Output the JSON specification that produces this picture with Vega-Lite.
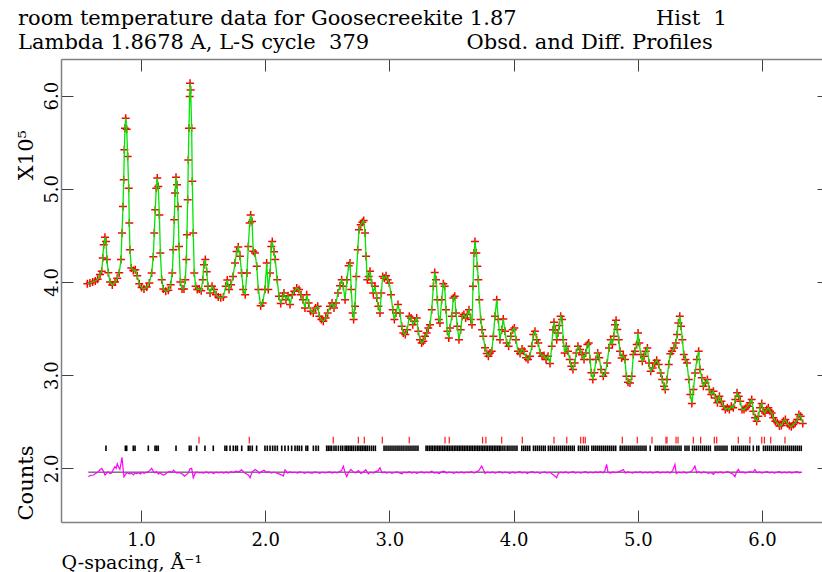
{
"$schema": "https://vega.github.io/schema/vega-lite/v6.json",
"width": 761, "height": 463,
"autosize": {"type": "none"},
"padding": {"left": 61, "top": 59, "right": 0, "bottom": 50},
"background": "white",
"config": {"view": {"stroke": null}, "font": "DejaVu Serif"},
"title": {
 "text": "\u00a0room temperature data for Goosecreekite 1.87\u2003\u2003\u2003\u2003\u2003\u2003\u00a0\u00a0Hist\u00a0\u00a01",
 "subtitle": "Lambda 1.8678 A, L-S cycle\u00a0\u00a0379\u2003\u2003\u2003\u2003\u00a0\u00a0Obsd. and Diff. Profiles",
 "anchor": "start", "frame": "group", "dx": -43, "offset": 6,
 "font": "DejaVu Serif", "fontSize": 21, "fontWeight": "normal", "color": "black",
 "subtitleFont": "DejaVu Serif", "subtitleFontSize": 21, "subtitleColor": "black", "subtitlePadding": 3
},
"datasets": {
 "zero": [{"q0": 0.576, "q1": 6.32, "lvl": 1.959}],
 "hk1": [
  {"q":0.718},{"q":0.874},{"q":0.885},{"q":0.938},{"q":0.952},{"q":1.059},{"q":1.113},{"q":1.126},{"q":1.139},{"q":1.282},{"q":1.389},{"q":1.403},{"q":1.448},{"q":1.515},{"q":1.582},{"q":1.676},{"q":1.690},{"q":1.717},{"q":1.743},{"q":1.762},{"q":1.776},{"q":1.811},{"q":1.864},{"q":1.878},{"q":1.896},{"q":1.931},{"q":1.998},{"q":2.017},{"q":2.039},{"q":2.060},{"q":2.079},{"q":2.098},{"q":2.133},{"q":2.159},{"q":2.186},{"q":2.213},{"q":2.240},{"q":2.259},{"q":2.275},{"q":2.294},{"q":2.328},{"q":2.342},{"q":2.388},{"q":2.409},{"q":2.428},
  {"q":2.495},{"q":2.508},{"q":2.522},{"q":2.535},{"q":2.554},{"q":2.570},{"q":2.589},{"q":2.608},{"q":2.624},{"q":2.643},{"q":2.656},{"q":2.669},{"q":2.683},{"q":2.696},{"q":2.710},{"q":2.726},{"q":2.742},{"q":2.755},{"q":2.769},{"q":2.782},{"q":2.796},{"q":2.809},{"q":2.822},{"q":2.838},{"q":2.855},{"q":2.871},{"q":2.887},
  {"q":2.957},{"q":2.973},{"q":2.989},{"q":3.005},{"q":3.021},{"q":3.037},{"q":3.053},{"q":3.069},{"q":3.085},{"q":3.101},{"q":3.117},{"q":3.134},{"q":3.150},{"q":3.166},{"q":3.182},{"q":3.198},{"q":3.214},{"q":3.230},
  {"q":3.295},{"q":3.308},{"q":3.322},{"q":3.335},{"q":3.348},{"q":3.362},{"q":3.375},{"q":3.389},{"q":3.402},{"q":3.415},{"q":3.429},{"q":3.442},{"q":3.456},{"q":3.469},{"q":3.482},{"q":3.496},{"q":3.509},{"q":3.523},{"q":3.536},{"q":3.550},{"q":3.563},{"q":3.576},{"q":3.590},{"q":3.603},{"q":3.617},{"q":3.630},{"q":3.644},{"q":3.657},{"q":3.670},{"q":3.684},{"q":3.697},{"q":3.711},{"q":3.724},{"q":3.738},{"q":3.751},{"q":3.764},{"q":3.778},{"q":3.791},{"q":3.805},{"q":3.818},{"q":3.831},{"q":3.845},{"q":3.858},{"q":3.872},{"q":3.885},
  {"q":3.898},{"q":3.914},{"q":3.930},{"q":3.948},{"q":3.963},{"q":3.979},{"q":3.995},{"q":4.011},{"q":4.027},{"q":4.066},{"q":4.082},{"q":4.098},{"q":4.114},{"q":4.130},{"q":4.160},{"q":4.176},{"q":4.192},{"q":4.208},{"q":4.224},{"q":4.240},{"q":4.255},{"q":4.280},{"q":4.296},{"q":4.312},{"q":4.328},{"q":4.344},{"q":4.360},{"q":4.376},{"q":4.392},{"q":4.408},{"q":4.424},{"q":4.440},{"q":4.456},{"q":4.472},{"q":4.488},{"q":4.522},{"q":4.538},{"q":4.554},{"q":4.570},{"q":4.586},{"q":4.602},{"q":4.630},{"q":4.646},{"q":4.662},{"q":4.678},{"q":4.694},{"q":4.710},{"q":4.726},{"q":4.742},{"q":4.758},{"q":4.774},{"q":4.790},{"q":4.806},{"q":4.822},{"q":4.858},{"q":4.874},{"q":4.890},{"q":4.906},{"q":4.922},{"q":4.938},{"q":4.954},{"q":4.970},{"q":4.986},{"q":5.002},{"q":5.018},{"q":5.034},{"q":5.050},{"q":5.066},{"q":5.100},{"q":5.140},{"q":5.156},{"q":5.172},{"q":5.188},{"q":5.204},{"q":5.220},{"q":5.236},{"q":5.252},{"q":5.268},{"q":5.284},{"q":5.300},{"q":5.316},{"q":5.332},{"q":5.348},{"q":5.380},{"q":5.396},{"q":5.412},{"q":5.440},{"q":5.456},{"q":5.472},{"q":5.488},{"q":5.504},{"q":5.520},{"q":5.536},{"q":5.552},{"q":5.568},{"q":5.584},{"q":5.622},{"q":5.638},{"q":5.654},{"q":5.670},{"q":5.686},{"q":5.702},{"q":5.718},{"q":5.756},{"q":5.772},{"q":5.788},{"q":5.804},{"q":5.820},{"q":5.836},{"q":5.852},{"q":5.868},{"q":5.884},{"q":5.900},{"q":5.930},{"q":5.958},{"q":5.974},{"q":6.012},{"q":6.028},{"q":6.044},{"q":6.060},{"q":6.076},{"q":6.092},{"q":6.108},{"q":6.124},{"q":6.140},{"q":6.156},{"q":6.172},{"q":6.188},{"q":6.204},{"q":6.220},{"q":6.236},{"q":6.252},{"q":6.268},{"q":6.284},{"q":6.300},{"q":6.316}
 ],
 "hk2": [
  {"q":1.467},{"q":1.872},{"q":2.548},{"q":2.750},{"q":2.798},{"q":2.943},{"q":3.160},{"q":3.448},{"q":3.482},{"q":3.750},{"q":3.777},{"q":3.904},{"q":4.070},{"q":4.325},{"q":4.428},{"q":4.540},{"q":4.561},{"q":4.577},{"q":4.875},{"q":4.996},{"q":5.114},{"q":5.227},{"q":5.235},{"q":5.308},{"q":5.324},{"q":5.447},{"q":5.506},{"q":5.616},{"q":5.635},{"q":5.809},{"q":5.903},{"q":5.998},{"q":6.019},{"q":6.070},{"q":6.185}
 ],
 "diff": [
  {"q":0.576,"d":1.910},{"q":0.595,"d":1.925},{"q":0.616,"d":1.928},{"q":0.636,"d":1.945},{"q":0.656,"d":1.964},{"q":0.670,"d":1.985},{"q":0.684,"d":2.000},{"q":0.697,"d":1.970},{"q":0.710,"d":1.928},{"q":0.724,"d":1.950},{"q":0.737,"d":1.964},{"q":0.751,"d":1.945},{"q":0.764,"d":1.950},{"q":0.778,"d":1.990},{"q":0.790,"d":2.018},{"q":0.800,"d":2.000},{"q":0.809,"d":2.050},{"q":0.818,"d":2.020},{"q":0.830,"d":1.990},{"q":0.840,"d":2.060},{"q":0.847,"d":2.118},{"q":0.854,"d":2.020},{"q":0.863,"d":1.910},{"q":0.875,"d":1.935},{"q":0.888,"d":1.955},{"q":0.898,"d":1.946},{"q":0.912,"d":1.940},{"q":0.925,"d":1.948},{"q":0.938,"d":1.930},{"q":0.952,"d":1.950},{"q":0.966,"d":1.944},{"q":0.980,"d":1.952},{"q":0.995,"d":1.940},{"q":1.010,"d":1.958},{"q":1.025,"d":1.946},{"q":1.040,"d":1.955},{"q":1.055,"d":1.962},{"q":1.070,"d":1.975},{"q":1.086,"d":2.000},{"q":1.098,"d":1.970},{"q":1.112,"d":1.950},{"q":1.125,"d":1.965},{"q":1.140,"d":1.940},{"q":1.155,"d":1.952},{"q":1.170,"d":1.935},{"q":1.185,"d":1.928},{"q":1.200,"d":1.942},{"q":1.215,"d":1.958},{"q":1.232,"d":1.966},{"q":1.248,"d":1.955},{"q":1.262,"d":1.980},{"q":1.276,"d":1.962},{"q":1.290,"d":1.948},{"q":1.305,"d":1.955},{"q":1.320,"d":1.945},{"q":1.335,"d":1.938},{"q":1.350,"d":1.915},{"q":1.365,"d":1.930},{"q":1.380,"d":1.950},{"q":1.395,"d":1.995},{"q":1.408,"d":2.000},{"q":1.421,"d":1.899},{"q":1.435,"d":1.945},{"q":1.450,"d":1.960},{"q":1.468,"d":1.950},{"q":1.485,"d":1.955},{"q":1.505,"d":1.948},{"q":1.525,"d":1.962},{"q":1.545,"d":1.950},{"q":1.565,"d":1.958},{"q":1.585,"d":1.945},{"q":1.605,"d":1.960},{"q":1.625,"d":1.952},{"q":1.645,"d":1.958},{"q":1.665,"d":1.948},{"q":1.685,"d":1.962},{"q":1.705,"d":1.950},{"q":1.725,"d":1.965},{"q":1.745,"d":1.955},{"q":1.765,"d":1.970},{"q":1.785,"d":1.960},{"q":1.810,"d":1.985},{"q":1.830,"d":1.955},{"q":1.850,"d":1.940},{"q":1.865,"d":1.930},{"q":1.878,"d":1.899},{"q":1.895,"d":1.960},{"q":1.918,"d":1.988},{"q":1.935,"d":1.975},{"q":1.952,"d":1.945},{"q":1.970,"d":1.965},{"q":1.990,"d":1.980},{"q":2.010,"d":1.958},{"q":2.030,"d":1.965},{"q":2.050,"d":1.948},{"q":2.070,"d":1.960},{"q":2.090,"d":1.950},{"q":2.110,"d":1.940},{"q":2.130,"d":1.930},{"q":2.146,"d":1.917},{"q":2.160,"d":1.985},{"q":2.180,"d":1.950},{"q":2.200,"d":1.962},{"q":2.220,"d":1.955},{"q":2.240,"d":1.958},{"q":2.260,"d":1.950},{"q":2.280,"d":1.962},{"q":2.300,"d":1.955},{"q":2.320,"d":1.945},{"q":2.340,"d":1.960},{"q":2.360,"d":1.952},{"q":2.380,"d":1.948},{"q":2.400,"d":1.962},{"q":2.420,"d":1.955},{"q":2.440,"d":1.945},{"q":2.460,"d":1.960},{"q":2.480,"d":1.950},{"q":2.500,"d":1.957},{"q":2.520,"d":1.962},{"q":2.540,"d":1.950},{"q":2.560,"d":1.958},{"q":2.580,"d":1.952},{"q":2.600,"d":1.965},{"q":2.615,"d":1.975},{"q":2.629,"d":2.024},{"q":2.642,"d":1.960},{"q":2.656,"d":1.910},{"q":2.670,"d":1.955},{"q":2.690,"d":1.988},{"q":2.710,"d":1.960},{"q":2.730,"d":1.952},{"q":2.750,"d":1.975},{"q":2.770,"d":1.945},{"q":2.790,"d":1.960},{"q":2.810,"d":1.985},{"q":2.830,"d":1.940},{"q":2.850,"d":1.960},{"q":2.870,"d":1.950},{"q":2.890,"d":1.965},{"q":2.910,"d":1.975},{"q":2.924,"d":2.006},{"q":2.940,"d":1.952},{"q":2.960,"d":1.962},{"q":2.980,"d":1.950},{"q":3.000,"d":1.960},{"q":3.020,"d":1.945},{"q":3.040,"d":1.955},{"q":3.060,"d":1.962},{"q":3.080,"d":1.950},{"q":3.100,"d":1.940},{"q":3.120,"d":1.960},{"q":3.140,"d":1.952},{"q":3.160,"d":1.965},{"q":3.180,"d":1.950},{"q":3.200,"d":1.958},{"q":3.220,"d":1.945},{"q":3.240,"d":1.955},{"q":3.260,"d":1.962},{"q":3.280,"d":1.950},{"q":3.300,"d":1.960},{"q":3.320,"d":1.952},{"q":3.340,"d":1.968},{"q":3.360,"d":1.950},{"q":3.380,"d":1.957},{"q":3.400,"d":1.945},{"q":3.420,"d":1.962},{"q":3.440,"d":1.970},{"q":3.460,"d":1.950},{"q":3.480,"d":1.960},{"q":3.500,"d":1.955},{"q":3.520,"d":1.945},{"q":3.540,"d":1.960},{"q":3.560,"d":1.952},{"q":3.580,"d":1.962},{"q":3.600,"d":1.948},{"q":3.620,"d":1.960},{"q":3.640,"d":1.955},{"q":3.660,"d":1.965},{"q":3.680,"d":1.950},{"q":3.700,"d":1.962},{"q":3.720,"d":1.975},{"q":3.743,"d":2.024},{"q":3.756,"d":1.988},{"q":3.770,"d":1.945},{"q":3.790,"d":1.960},{"q":3.810,"d":1.952},{"q":3.830,"d":1.962},{"q":3.850,"d":1.948},{"q":3.870,"d":1.958},{"q":3.890,"d":1.965},{"q":3.910,"d":1.950},{"q":3.930,"d":1.960},{"q":3.950,"d":1.955},{"q":3.970,"d":1.945},{"q":3.990,"d":1.962},{"q":4.010,"d":1.950},{"q":4.030,"d":1.958},{"q":4.050,"d":1.965},{"q":4.070,"d":1.950},{"q":4.090,"d":1.960},{"q":4.110,"d":1.945},{"q":4.130,"d":1.958},{"q":4.150,"d":1.965},{"q":4.170,"d":1.952},{"q":4.190,"d":1.960},{"q":4.210,"d":1.945},{"q":4.230,"d":1.955},{"q":4.250,"d":1.962},{"q":4.270,"d":1.950},{"q":4.290,"d":1.960},{"q":4.310,"d":1.940},{"q":4.330,"d":1.920},{"q":4.346,"d":1.899},{"q":4.360,"d":1.945},{"q":4.380,"d":1.960},{"q":4.400,"d":1.952},{"q":4.420,"d":1.962},{"q":4.440,"d":1.950},{"q":4.460,"d":1.958},{"q":4.480,"d":1.965},{"q":4.500,"d":1.950},{"q":4.520,"d":1.960},{"q":4.540,"d":1.948},{"q":4.560,"d":1.958},{"q":4.580,"d":1.965},{"q":4.600,"d":1.950},{"q":4.620,"d":1.960},{"q":4.640,"d":1.952},{"q":4.660,"d":1.962},{"q":4.680,"d":1.955},{"q":4.700,"d":1.965},{"q":4.720,"d":1.950},{"q":4.735,"d":1.975},{"q":4.749,"d":2.042},{"q":4.760,"d":1.960},{"q":4.780,"d":1.950},{"q":4.800,"d":1.962},{"q":4.820,"d":1.955},{"q":4.840,"d":1.960},{"q":4.860,"d":1.970},{"q":4.883,"d":1.988},{"q":4.900,"d":1.950},{"q":4.920,"d":1.962},{"q":4.940,"d":1.955},{"q":4.960,"d":1.948},{"q":4.980,"d":1.962},{"q":5.000,"d":1.955},{"q":5.020,"d":1.965},{"q":5.040,"d":1.950},{"q":5.060,"d":1.960},{"q":5.080,"d":1.952},{"q":5.100,"d":1.962},{"q":5.120,"d":1.950},{"q":5.140,"d":1.958},{"q":5.160,"d":1.965},{"q":5.180,"d":1.950},{"q":5.200,"d":1.960},{"q":5.220,"d":1.955},{"q":5.240,"d":1.962},{"q":5.260,"d":1.950},{"q":5.280,"d":1.975},{"q":5.299,"d":2.042},{"q":5.310,"d":1.945},{"q":5.330,"d":1.960},{"q":5.350,"d":1.952},{"q":5.370,"d":1.962},{"q":5.390,"d":1.950},{"q":5.410,"d":1.958},{"q":5.430,"d":1.965},{"q":5.445,"d":1.990},{"q":5.460,"d":2.024},{"q":5.475,"d":1.952},{"q":5.490,"d":1.965},{"q":5.510,"d":1.950},{"q":5.530,"d":1.962},{"q":5.550,"d":1.955},{"q":5.570,"d":1.945},{"q":5.590,"d":1.955},{"q":5.608,"d":1.934},{"q":5.625,"d":1.960},{"q":5.645,"d":1.952},{"q":5.665,"d":1.962},{"q":5.685,"d":1.950},{"q":5.705,"d":1.958},{"q":5.725,"d":1.965},{"q":5.745,"d":1.950},{"q":5.765,"d":1.940},{"q":5.782,"d":1.910},{"q":5.795,"d":1.960},{"q":5.809,"d":1.988},{"q":5.825,"d":1.955},{"q":5.845,"d":1.962},{"q":5.865,"d":1.950},{"q":5.885,"d":1.958},{"q":5.905,"d":1.965},{"q":5.925,"d":1.955},{"q":5.943,"d":1.988},{"q":5.960,"d":1.952},{"q":5.980,"d":1.962},{"q":6.000,"d":1.950},{"q":6.020,"d":1.958},{"q":6.040,"d":1.965},{"q":6.060,"d":1.952},{"q":6.080,"d":1.960},{"q":6.100,"d":1.948},{"q":6.120,"d":1.958},{"q":6.140,"d":1.965},{"q":6.160,"d":1.950},{"q":6.180,"d":1.960},{"q":6.200,"d":1.952},{"q":6.220,"d":1.962},{"q":6.240,"d":1.950},{"q":6.260,"d":1.958},{"q":6.280,"d":1.965},{"q":6.300,"d":1.952},{"q":6.319,"d":1.958}
 ],
 "prof": [
  {"q":0.568,"I":3.982},{"q":0.589,"I":3.99},{"q":0.611,"I":4.0},{"q":0.632,"I":4.01},{"q":0.651,"I":4.03},{"q":0.670,"I":4.08},{"q":0.684,"I":4.114},{"q":0.692,"I":4.257},{"q":0.700,"I":4.40},{"q":0.710,"I":4.48},{"q":0.718,"I":4.435},{"q":0.726,"I":4.24},{"q":0.737,"I":4.10},{"q":0.750,"I":4.0},{"q":0.769,"I":3.968},{"q":0.791,"I":4.0},{"q":0.809,"I":4.04},{"q":0.825,"I":4.10},{"q":0.839,"I":4.24},{"q":0.847,"I":4.525},{"q":0.855,"I":4.81},{"q":0.861,"I":5.097},{"q":0.866,"I":5.418},{"q":0.871,"I":5.65},{"q":0.877,"I":5.758},{"q":0.885,"I":5.64},{"q":0.893,"I":5.346},{"q":0.901,"I":5.007},{"q":0.906,"I":4.632},{"q":0.911,"I":4.346},{"q":0.922,"I":4.15},{"q":0.938,"I":4.124},{"q":0.954,"I":4.13},{"q":0.970,"I":4.067},{"q":0.986,"I":3.98},{"q":1.005,"I":3.94},{"q":1.024,"I":3.925},{"q":1.046,"I":3.945},{"q":1.067,"I":3.99},{"q":1.086,"I":4.097},{"q":1.099,"I":4.27},{"q":1.107,"I":4.525},{"q":1.115,"I":4.775},{"q":1.123,"I":5.007},{"q":1.131,"I":5.115},{"q":1.139,"I":5.025},{"q":1.148,"I":4.72},{"q":1.156,"I":4.31},{"q":1.167,"I":4.025},{"q":1.180,"I":3.925},{"q":1.199,"I":3.90},{"q":1.220,"I":3.91},{"q":1.239,"I":3.97},{"q":1.252,"I":4.097},{"q":1.260,"I":4.346},{"q":1.268,"I":4.668},{"q":1.274,"I":4.954},{"q":1.282,"I":5.125},{"q":1.290,"I":5.043},{"q":1.298,"I":4.81},{"q":1.306,"I":4.38},{"q":1.317,"I":4.0},{"q":1.330,"I":3.925},{"q":1.346,"I":3.925},{"q":1.357,"I":4.025},{"q":1.365,"I":4.24},{"q":1.370,"I":4.507},{"q":1.376,"I":4.882},{"q":1.381,"I":5.31},{"q":1.386,"I":5.65},{"q":1.392,"I":5.99},{"q":1.395,"I":6.133},{"q":1.400,"I":6.06},{"q":1.408,"I":5.65},{"q":1.413,"I":5.08},{"q":1.421,"I":4.525},{"q":1.429,"I":4.097},{"q":1.440,"I":3.953},{"q":1.453,"I":3.918},{"q":1.469,"I":3.925},{"q":1.485,"I":3.907},{"q":1.497,"I":4.025},{"q":1.507,"I":4.185},{"q":1.518,"I":4.24},{"q":1.529,"I":4.11},{"q":1.539,"I":3.953},{"q":1.556,"I":3.882},{"q":1.572,"I":3.953},{"q":1.588,"I":3.918},{"q":1.604,"I":3.864},{"q":1.622,"I":3.84},{"q":1.642,"I":3.83},{"q":1.663,"I":3.84},{"q":1.682,"I":3.953},{"q":1.695,"I":4.02},{"q":1.709,"I":3.918},{"q":1.725,"I":3.97},{"q":1.741,"I":4.06},{"q":1.757,"I":4.203},{"q":1.770,"I":4.328},{"q":1.783,"I":4.375},{"q":1.797,"I":4.275},{"q":1.810,"I":4.097},{"q":1.823,"I":3.918},{"q":1.839,"I":3.864},{"q":1.853,"I":4.097},{"q":1.864,"I":4.38},{"q":1.875,"I":4.632},{"q":1.883,"I":4.72},{"q":1.894,"I":4.65},{"q":1.904,"I":4.33},{"q":1.918,"I":4.31},{"q":1.932,"I":4.17},{"q":1.945,"I":3.918},{"q":1.964,"I":3.746},{"q":1.980,"I":3.775},{"q":1.998,"I":3.918},{"q":2.012,"I":4.203},{"q":2.025,"I":3.918},{"q":2.039,"I":4.097},{"q":2.049,"I":4.382},{"q":2.057,"I":4.435},{"q":2.071,"I":4.325},{"q":2.081,"I":4.24},{"q":2.097,"I":4.025},{"q":2.111,"I":3.846},{"q":2.125,"I":3.768},{"q":2.141,"I":3.846},{"q":2.151,"I":3.882},{"q":2.167,"I":3.81},{"q":2.184,"I":3.853},{"q":2.200,"I":3.757},{"q":2.218,"I":3.864},{"q":2.234,"I":3.9},{"q":2.254,"I":3.936},{"q":2.272,"I":3.918},{"q":2.288,"I":3.864},{"q":2.304,"I":3.81},{"q":2.320,"I":3.721},{"q":2.334,"I":3.864},{"q":2.350,"I":3.775},{"q":2.366,"I":3.685},{"q":2.387,"I":3.668},{"q":2.406,"I":3.721},{"q":2.423,"I":3.739},{"q":2.436,"I":3.631},{"q":2.452,"I":3.596},{"q":2.468,"I":3.578},{"q":2.487,"I":3.614},{"q":2.503,"I":3.668},{"q":2.522,"I":3.739},{"q":2.538,"I":3.775},{"q":2.554,"I":3.721},{"q":2.570,"I":3.775},{"q":2.586,"I":3.882},{"q":2.602,"I":3.96},{"q":2.616,"I":4.025},{"q":2.629,"I":3.953},{"q":2.643,"I":3.81},{"q":2.659,"I":4.025},{"q":2.672,"I":4.175},{"q":2.683,"I":4.203},{"q":2.693,"I":3.918},{"q":2.704,"I":3.668},{"q":2.712,"I":3.596},{"q":2.723,"I":3.739},{"q":2.734,"I":4.06},{"q":2.745,"I":4.346},{"q":2.755,"I":4.56},{"q":2.769,"I":4.614},{"q":2.782,"I":4.64},{"q":2.793,"I":4.66},{"q":2.804,"I":4.525},{"q":2.812,"I":4.275},{"q":2.822,"I":4.025},{"q":2.833,"I":4.06},{"q":2.844,"I":4.114},{"q":2.857,"I":3.99},{"q":2.870,"I":3.882},{"q":2.884,"I":3.953},{"q":2.898,"I":3.828},{"q":2.911,"I":3.739},{"q":2.924,"I":3.668},{"q":2.935,"I":3.882},{"q":2.946,"I":4.06},{"q":2.959,"I":4.04},{"q":2.973,"I":4.067},{"q":2.986,"I":4.025},{"q":2.999,"I":3.99},{"q":3.013,"I":3.864},{"q":3.027,"I":3.703},{"q":3.040,"I":3.596},{"q":3.053,"I":3.668},{"q":3.069,"I":3.757},{"q":3.085,"I":3.668},{"q":3.099,"I":3.524},{"q":3.112,"I":3.453},{"q":3.128,"I":3.435},{"q":3.144,"I":3.488},{"q":3.160,"I":3.631},{"q":3.174,"I":3.614},{"q":3.188,"I":3.542},{"q":3.204,"I":3.578},{"q":3.220,"I":3.614},{"q":3.233,"I":3.47},{"q":3.246,"I":3.381},{"q":3.260,"I":3.346},{"q":3.273,"I":3.363},{"q":3.287,"I":3.417},{"q":3.300,"I":3.453},{"q":3.313,"I":3.506},{"q":3.327,"I":3.542},{"q":3.341,"I":3.703},{"q":3.354,"I":3.953},{"q":3.365,"I":4.103},{"q":3.375,"I":4.025},{"q":3.386,"I":3.81},{"q":3.397,"I":3.596},{"q":3.407,"I":3.56},{"q":3.421,"I":3.81},{"q":3.434,"I":3.982},{"q":3.445,"I":3.953},{"q":3.456,"I":3.703},{"q":3.467,"I":3.47},{"q":3.478,"I":3.40},{"q":3.488,"I":3.506},{"q":3.502,"I":3.631},{"q":3.515,"I":3.828},{"q":3.526,"I":3.846},{"q":3.536,"I":3.668},{"q":3.547,"I":3.524},{"q":3.560,"I":3.381},{"q":3.574,"I":3.488},{"q":3.587,"I":3.631},{"q":3.600,"I":3.65},{"q":3.614,"I":3.614},{"q":3.627,"I":3.65},{"q":3.641,"I":3.703},{"q":3.655,"I":3.596},{"q":3.665,"I":3.542},{"q":3.673,"I":3.953},{"q":3.681,"I":4.31},{"q":3.689,"I":4.435},{"q":3.700,"I":4.31},{"q":3.708,"I":4.168},{"q":3.716,"I":4.025},{"q":3.724,"I":3.81},{"q":3.735,"I":3.596},{"q":3.746,"I":3.488},{"q":3.756,"I":3.417},{"q":3.770,"I":3.293},{"q":3.784,"I":3.232},{"q":3.797,"I":3.203},{"q":3.810,"I":3.239},{"q":3.824,"I":3.257},{"q":3.837,"I":3.417},{"q":3.850,"I":3.631},{"q":3.864,"I":3.81},{"q":3.877,"I":3.596},{"q":3.890,"I":3.381},{"q":3.904,"I":3.488},{"q":3.917,"I":3.603},{"q":3.931,"I":3.47},{"q":3.944,"I":3.346},{"q":3.960,"I":3.31},{"q":3.977,"I":3.417},{"q":3.993,"I":3.488},{"q":4.006,"I":3.506},{"q":4.019,"I":3.381},{"q":4.035,"I":3.257},{"q":4.052,"I":3.232},{"q":4.068,"I":3.282},{"q":4.084,"I":3.257},{"q":4.100,"I":3.186},{"q":4.116,"I":3.168},{"q":4.132,"I":3.203},{"q":4.146,"I":3.31},{"q":4.159,"I":3.435},{"q":4.172,"I":3.47},{"q":4.186,"I":3.381},{"q":4.199,"I":3.346},{"q":4.213,"I":3.239},{"q":4.229,"I":3.203},{"q":4.245,"I":3.21},{"q":4.261,"I":3.168},{"q":4.277,"I":3.203},{"q":4.293,"I":3.124},{"q":4.307,"I":3.31},{"q":4.317,"I":3.488},{"q":4.325,"I":3.567},{"q":4.336,"I":3.488},{"q":4.347,"I":3.381},{"q":4.357,"I":3.453},{"q":4.368,"I":3.532},{"q":4.379,"I":3.631},{"q":4.390,"I":3.596},{"q":4.400,"I":3.381},{"q":4.411,"I":3.239},{"q":4.424,"I":3.31},{"q":4.438,"I":3.257},{"q":4.452,"I":3.168},{"q":4.465,"I":3.096},{"q":4.478,"I":3.06},{"q":4.492,"I":3.131},{"q":4.505,"I":3.239},{"q":4.518,"I":3.31},{"q":4.535,"I":3.274},{"q":4.551,"I":3.22},{"q":4.567,"I":3.168},{"q":4.581,"I":3.239},{"q":4.594,"I":3.328},{"q":4.605,"I":3.346},{"q":4.615,"I":3.168},{"q":4.626,"I":3.025},{"q":4.638,"I":2.953},{"q":4.650,"I":3.025},{"q":4.664,"I":3.168},{"q":4.677,"I":3.239},{"q":4.690,"I":3.186},{"q":4.704,"I":3.06},{"q":4.722,"I":2.988},{"q":4.738,"I":3.024},{"q":4.754,"I":3.131},{"q":4.768,"I":3.292},{"q":4.782,"I":3.381},{"q":4.795,"I":3.328},{"q":4.806,"I":3.417},{"q":4.816,"I":3.542},{"q":4.825,"I":3.588},{"q":4.835,"I":3.489},{"q":4.846,"I":3.381},{"q":4.857,"I":3.256},{"q":4.870,"I":3.185},{"q":4.883,"I":3.21},{"q":4.897,"I":3.167},{"q":4.908,"I":2.988},{"q":4.921,"I":2.924},{"q":4.937,"I":2.917},{"q":4.951,"I":2.988},{"q":4.964,"I":3.221},{"q":4.977,"I":3.256},{"q":4.991,"I":3.328},{"q":5.002,"I":3.453},{"q":5.012,"I":3.346},{"q":5.023,"I":3.221},{"q":5.036,"I":3.149},{"q":5.050,"I":3.203},{"q":5.064,"I":3.256},{"q":5.077,"I":3.292},{"q":5.090,"I":3.131},{"q":5.104,"I":3.042},{"q":5.120,"I":3.078},{"q":5.136,"I":3.131},{"q":5.152,"I":3.16},{"q":5.168,"I":3.114},{"q":5.184,"I":3.024},{"q":5.197,"I":2.953},{"q":5.211,"I":2.881},{"q":5.221,"I":2.846},{"q":5.235,"I":2.953},{"q":5.249,"I":3.114},{"q":5.262,"I":3.231},{"q":5.275,"I":3.256},{"q":5.292,"I":3.292},{"q":5.306,"I":3.346},{"q":5.316,"I":3.435},{"q":5.327,"I":3.56},{"q":5.338,"I":3.631},{"q":5.348,"I":3.524},{"q":5.359,"I":3.381},{"q":5.370,"I":3.221},{"q":5.383,"I":3.167},{"q":5.396,"I":3.131},{"q":5.410,"I":2.953},{"q":5.423,"I":2.792},{"q":5.435,"I":2.696},{"q":5.448,"I":2.846},{"q":5.461,"I":3.024},{"q":5.475,"I":3.167},{"q":5.490,"I":3.256},{"q":5.501,"I":3.06},{"q":5.515,"I":2.971},{"q":5.528,"I":2.881},{"q":5.544,"I":2.917},{"q":5.560,"I":2.953},{"q":5.576,"I":2.846},{"q":5.592,"I":2.792},{"q":5.609,"I":2.828},{"q":5.625,"I":2.756},{"q":5.641,"I":2.703},{"q":5.657,"I":2.774},{"q":5.673,"I":2.721},{"q":5.689,"I":2.667},{"q":5.705,"I":2.631},{"q":5.721,"I":2.649},{"q":5.737,"I":2.631},{"q":5.753,"I":2.667},{"q":5.769,"I":2.649},{"q":5.785,"I":2.738},{"q":5.799,"I":2.81},{"q":5.812,"I":2.774},{"q":5.825,"I":2.721},{"q":5.839,"I":2.631},{"q":5.855,"I":2.631},{"q":5.871,"I":2.649},{"q":5.887,"I":2.667},{"q":5.903,"I":2.703},{"q":5.917,"I":2.738},{"q":5.930,"I":2.613},{"q":5.944,"I":2.542},{"q":5.957,"I":2.506},{"q":5.971,"I":2.56},{"q":5.984,"I":2.649},{"q":5.998,"I":2.696},{"q":6.011,"I":2.613},{"q":6.024,"I":2.595},{"q":6.038,"I":2.631},{"q":6.051,"I":2.649},{"q":6.064,"I":2.613},{"q":6.078,"I":2.595},{"q":6.091,"I":2.542},{"q":6.107,"I":2.506},{"q":6.123,"I":2.488},{"q":6.140,"I":2.453},{"q":6.156,"I":2.46},{"q":6.172,"I":2.506},{"q":6.188,"I":2.524},{"q":6.204,"I":2.481},{"q":6.220,"I":2.46},{"q":6.236,"I":2.446},{"q":6.252,"I":2.47},{"q":6.268,"I":2.488},{"q":6.284,"I":2.524},{"q":6.297,"I":2.578},{"q":6.311,"I":2.56},{"q":6.328,"I":2.481}
 ]
},
"layer": [
 {
  "data": {"name": "hk1"},
  "mark": {"type": "rule", "color": "#000000", "strokeWidth": 1.6},
  "encoding": {
   "x": {"field": "q", "type": "quantitative", "scale": {"domain": [0.356, 6.483], "nice": false, "zero": false}, "axis": null},
   "y": {"datum": 2.185, "type": "quantitative", "scale": {"domain": [1.424, 6.393], "nice": false, "zero": false}, "axis": null},
   "y2": {"datum": 2.245}
  }
 },
 {
  "data": {"name": "hk2"},
  "mark": {"type": "rule", "color": "#ff1a1a", "strokeWidth": 1.2},
  "encoding": {
   "x": {"field": "q", "type": "quantitative", "scale": {"domain": [0.356, 6.483], "nice": false, "zero": false}, "axis": null},
   "y": {"datum": 2.267, "type": "quantitative", "scale": {"domain": [1.424, 6.393], "nice": false, "zero": false}, "axis": null},
   "y2": {"datum": 2.338}
  }
 },
 {
  "data": {"name": "zero"},
  "mark": {"type": "rule", "color": "#333333", "strokeWidth": 1},
  "encoding": {
   "x": {"field": "q0", "type": "quantitative", "scale": {"domain": [0.356, 6.483], "nice": false, "zero": false}, "axis": null},
   "x2": {"field": "q1"},
   "y": {"field": "lvl", "type": "quantitative", "scale": {"domain": [1.424, 6.393], "nice": false, "zero": false}, "axis": null}
  }
 },
 {
  "data": {"name": "diff"},
  "mark": {"type": "line", "color": "#ff00ff", "strokeWidth": 1.2},
  "encoding": {
   "x": {"field": "q", "type": "quantitative", "scale": {"domain": [0.356, 6.483], "nice": false, "zero": false}, "axis": null},
   "y": {"field": "d", "type": "quantitative", "scale": {"domain": [1.424, 6.393], "nice": false, "zero": false}, "axis": null}
  }
 },
 {
  "data": {"name": "prof"},
  "mark": {"type": "point", "shape": "M-1,0H1M0,-1V1", "size": 64, "filled": false, "color": "#ff0000", "strokeWidth": 1.5, "opacity": 1},
  "encoding": {
   "x": {"field": "q", "type": "quantitative", "scale": {"domain": [0.356, 6.483], "nice": false, "zero": false},
    "axis": {"orient": "bottom", "values": [1, 2, 3, 4, 5, 6], "format": ".1f", "grid": false, "tickSize": -12, "tickColor": "#404040", "tickWidth": 1, "domainColor": "#808080", "domainWidth": 1.5, "labelFont": "DejaVu Serif", "labelFontSize": 18, "labelColor": "#000000", "labelPadding": 21, "labelFlush": false, "title": "Q-spacing, \u00c5\u207b\u00b9", "titleFont": "DejaVu Serif", "titleFontSize": 19, "titleFontWeight": "normal", "titleColor": "#000000", "titleAnchor": "start", "titleAlign": "left", "titleBaseline": "alphabetic", "titleX": 0, "titleY": 46}},
   "y": {"field": "I", "type": "quantitative", "scale": {"domain": [1.424, 6.393], "nice": false, "zero": false},
    "axis": {"orient": "left", "values": [2, 3, 4, 5, 6], "format": ".1f", "grid": false, "tickSize": -12, "tickColor": "#404040", "tickWidth": 1, "domainColor": "#808080", "domainWidth": 1.5, "labelFont": "DejaVu Serif", "labelFontSize": 18, "labelColor": "#000000", "labelAngle": -90, "labelAlign": "center", "labelBaseline": "alphabetic", "labelPadding": 16, "title": "Counts\u2003\u2003\u2003\u2003\u2003\u2003\u2003\u2003\u2003\u2003\u2003\u2003\u00a0\u00a0X10\u2075", "titleFont": "DejaVu Serif", "titleFontSize": 21, "titleFontWeight": "normal", "titleColor": "#000000", "titleAngle": -90, "titleAlign": "left", "titleBaseline": "alphabetic", "titleX": -29, "titleY": 461}}
  }
 },
 {
  "data": {"name": "prof"},
  "mark": {"type": "line", "color": "#00e600", "strokeWidth": 1.3},
  "encoding": {
   "x": {"field": "q", "type": "quantitative", "scale": {"domain": [0.356, 6.483], "nice": false, "zero": false},
    "axis": {"orient": "top", "values": [1, 2, 3, 4, 5, 6], "labels": false, "grid": false, "tickSize": -12, "tickColor": "#404040", "domainColor": "#808080", "domainWidth": 1.5, "title": null}},
   "y": {"field": "I", "type": "quantitative", "scale": {"domain": [1.424, 6.393], "nice": false, "zero": false},
    "axis": {"orient": "right", "values": [2, 3, 4, 5, 6], "labels": false, "grid": false, "tickSize": -5, "tickColor": "#404040", "domain": false, "title": null}}
  }
 }
],
"resolve": {"axis": {"x": "independent", "y": "independent"}}
}
